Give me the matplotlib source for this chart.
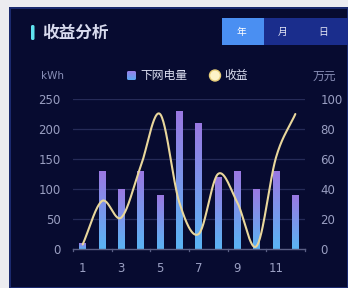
import numpy as np
import matplotlib
matplotlib.use("Agg")
import matplotlib.pyplot as plt
from matplotlib.patches import Rectangle, FancyBboxPatch, Circle
from matplotlib.colors import LinearSegmentedColormap

plt.rcParams['font.family'] = ['Noto Sans CJK SC', 'DejaVu Sans']

months = list(range(1, 13))
x_labels = ['1', '', '3', '', '5', '', '7', '', '9', '', '11', '']
energy = [10, 130, 100, 130, 90, 230, 210, 120, 130, 100, 130, 90]   # 下网电量 kWh
revenue = [3, 32, 21, 55, 90, 31, 10, 50, 31, 2, 61, 90]             # 收益 万元
left_ticks = [0, 50, 100, 150, 200, 250]
right_ticks = [0, 20, 40, 60, 80, 100]

W, H = 348, 288
fig = plt.figure(figsize=(W / 100, H / 100), dpi=100)
fig.patch.set_facecolor('#ececf0')

def fx(px):
    return px / W

def fy(py):
    return 1 - py / H

tick_color = '#9a9fc2'
tick_font = {'family': ['DejaVu Sans'], 'size': 8.5}

# panel background
bg = fig.add_axes([0, 0, 1, 1], zorder=-10)
bg.set_xlim(0, W)
bg.set_ylim(H, 0)
bg.axis('off')
bg.add_patch(Rectangle((9, 7), W - 9, H - 7, facecolor='#1b2a6e', edgecolor='none'))
bg.add_patch(Rectangle((11, 9), W - 12, H - 10, facecolor='#070b30', edgecolor='none'))
# title marker
bg.add_patch(FancyBboxPatch((31, 25), 3.5, 15, boxstyle='round,pad=0,rounding_size=1.5',
                            facecolor='#5fe3f0', edgecolor='none'))
bg.text(42, 32.5, '收益分析', color='#d8dbee', fontsize=12, fontweight='bold',
        va='center', ha='left')
# buttons
bg.add_patch(Rectangle((222, 18), 126, 27, facecolor='#1a2d8c', edgecolor='none'))
bg.add_patch(Rectangle((222, 18), 42, 27, facecolor='#4a8ff2', edgecolor='none'))
bg.text(241, 31.5, '年', color='white', fontsize=7, ha='center', va='center')
bg.text(283, 31.5, '月', color='#e6e8f5', fontsize=7, ha='center', va='center')
bg.text(323, 31.5, '日', color='#e6e8f5', fontsize=7, ha='center', va='center')
# axis unit labels
bg.text(41, 76, 'kWh', color='#8a90b8', fontsize=7.5, ha='left', va='center',
        family=['DejaVu Sans'])
bg.text(313, 76, '万元', color='#8a90b8', fontsize=8.5, ha='left', va='center')
# legend
leg_cmap = LinearSegmentedColormap.from_list('lg', ['#9a80e8', '#5aa8f0'])
grad = np.linspace(0, 1, 50).reshape(-1, 1)
im = bg.imshow(grad, cmap=leg_cmap, extent=(127, 136, 80, 71), aspect='auto', zorder=2)
sq = FancyBboxPatch((127, 71), 9, 9, boxstyle='round,pad=0,rounding_size=1.5',
                    facecolor='none', edgecolor='none')
bg.add_patch(sq)
im.set_clip_path(sq)
bg.text(140, 75.5, '下网电量', color='#dcdff0', fontsize=8.5, ha='left', va='center')
bg.add_patch(Circle((215, 75.5), 5.5, facecolor='#fdf3c8', edgecolor='#e8cf7a', lw=1.0))
bg.text(224, 75.5, '收益', color='#dcdff0', fontsize=8.5, ha='left', va='center')

# main axes
ax = fig.add_axes([fx(73), fy(249), fx(305) - fx(73), (249 - 99) / H])
ax.set_facecolor('none')
ax.set_xlim(0.5, 12.5)
ax.set_ylim(0, 250)
ax.set_yticks(left_ticks)
ax.set_yticklabels([str(v) for v in left_ticks], fontdict=tick_font)
ax.set_xticks(months)
ax.set_xticklabels(x_labels, fontdict=tick_font)
for s in ['top', 'right', 'left']:
    ax.spines[s].set_visible(False)
ax.spines['bottom'].set_color('#5a5f85')
ax.spines['bottom'].set_linewidth(1.0)
ax.tick_params(axis='y', length=0, pad=9, labelcolor=tick_color)
ax.tick_params(axis='x', length=0, pad=9, labelcolor=tick_color)
for t in left_ticks[1:]:
    ax.axhline(t, color='#262b58', lw=0.9, zorder=0)
# small ticks at category boundaries (every other)
for b in np.arange(0.5, 12.6, 2):
    ax.plot([b, b], [0, -4], color='#5a5f85', lw=0.9, clip_on=False)

bar_cmap = LinearSegmentedColormap.from_list('bar', ['#5ab4f4', '#9a78e2'])
bars = ax.bar(months, energy, width=0.34, color='none', zorder=2)
for b in bars:
    x0 = b.get_x()
    w = b.get_width()
    h = b.get_height()
    g = np.linspace(0, 1, 100).reshape(-1, 1)
    img = ax.imshow(g, cmap=bar_cmap, vmin=0, vmax=1, extent=(x0, x0 + w, 0, h),
                    origin='lower', aspect='auto', zorder=2)
    img.set_clip_path(b)

ax.set_xlim(0.5, 12.5)
ax.set_ylim(0, 250)

ax2 = ax.twinx()
ax2.set_ylim(0, 100)
ax2.set_yticks(right_ticks)
ax2.set_yticklabels([str(v) for v in right_ticks], fontdict=tick_font)
for s in ['top', 'right', 'left', 'bottom']:
    ax2.spines[s].set_visible(False)
ax2.tick_params(axis='y', length=0, pad=11, labelcolor=tick_color)

# smooth (Catmull-Rom) curve through revenue points
xs = np.array(months, dtype=float)
ys = np.array(revenue, dtype=float)
px = np.concatenate([[2 * xs[0] - xs[1]], xs, [2 * xs[-1] - xs[-2]]])
py = np.concatenate([[2 * ys[0] - ys[1]], ys, [2 * ys[-1] - ys[-2]]])
cx, cy = [], []
t = np.linspace(0, 1, 30)

def cr(a0, a1, a2, a3):
    return 0.5 * ((2 * a1) + (-a0 + a2) * t + (2 * a0 - 5 * a1 + 4 * a2 - a3) * t ** 2
                  + (-a0 + 3 * a1 - 3 * a2 + a3) * t ** 3)

for i in range(1, len(px) - 2):
    cx.extend(cr(px[i - 1], px[i], px[i + 1], px[i + 2]))
    cy.extend(cr(py[i - 1], py[i], py[i + 1], py[i + 2]))
ax2.plot(cx, cy, color='#e9d79c', lw=1.5, zorder=5, solid_capstyle='round')

fig.savefig('out.png', dpi=100, facecolor=fig.get_facecolor())
